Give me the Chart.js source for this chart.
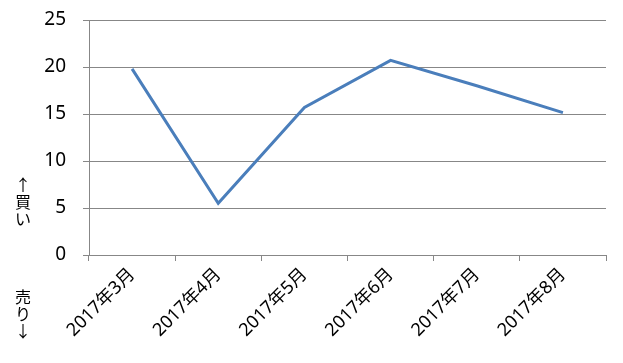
<!DOCTYPE html>
<html>
<head>
<meta charset="utf-8">
<script src="https://cdn.jsdelivr.net/npm/chart.js@4.4.1/dist/chart.umd.min.js"></script>
<style>
  html, body { margin: 0; padding: 0; background: #ffffff; }
  #wrap { position: relative; width: 623px; height: 363px; }
</style>
</head>
<body>
<div id="wrap"><canvas id="c" width="623" height="363"></canvas></div>
<script>
const categories = ['2017年3月', '2017年4月', '2017年5月', '2017年6月', '2017年7月', '2017年8月'];
const values = [19.8, 5.5, 15.7, 20.7, 18.0, 15.15];
const yTicks = [0, 5, 10, 15, 20, 25];
const sideLabelBuy = ['↑', '買', 'い'];
const sideLabelSell = ['売', 'り', '↓'];

const FONT = "'Noto Sans', 'Noto Sans CJK JP', sans-serif";

const sideText = {
  id: 'sideText',
  afterDraw(chart) {
    const ctx = chart.ctx;
    ctx.save();
    ctx.fillStyle = '#000';
    ctx.font = "16px 'Noto Sans CJK JP', sans-serif";
    ctx.textAlign = 'center';
    ctx.textBaseline = 'middle';
    sideLabelBuy.forEach((ch, i) => ctx.fillText(ch, 23, 185 + i * 17));
    sideLabelSell.forEach((ch, i) => ctx.fillText(ch, 23, 297 + i * 17));
    ctx.restore();
  }
};

new Chart(document.getElementById('c'), {
  type: 'line',
  data: {
    labels: categories,
    datasets: [{
      data: values,
      borderColor: '#4a7ebb',
      borderWidth: 3,
      pointRadius: 0,
      tension: 0,
      fill: false
    }]
  },
  options: {
    responsive: false,
    animation: false,
    layout: { padding: { top: 20, right: 17, left: 0, bottom: 0 } },
    plugins: { legend: { display: false }, tooltip: { enabled: false } },
    scales: {
      x: {
        offset: true,
        grid: { offset: true, drawOnChartArea: false, drawTicks: true, tickLength: 6, color: '#878787', lineWidth: 1 },
        border: { display: true, color: '#878787', width: 1 },
        ticks: {
          color: '#000',
          font: { family: FONT, size: 18 },
          minRotation: 45,
          maxRotation: 45,
          padding: 3
        },
        afterFit(s) { s.height = 108; s.paddingLeft = 0; s.paddingRight = 0; }
      },
      y: {
        min: 0,
        max: 25,
        afterBuildTicks(s) { s.ticks = yTicks.map(v => ({ value: v })); },
        grid: { color: '#878787', lineWidth: 1, drawTicks: true, tickLength: 6 },
        border: { display: true, color: '#878787', width: 1 },
        ticks: {
          color: '#000',
          font: { family: FONT, size: 19 },
          padding: 17
        },
        afterFit(s) { s.width = 89; s.paddingTop = 0; s.paddingBottom = 0; }
      }
    }
  },
  plugins: [sideText]
});
</script>
</body>
</html>
